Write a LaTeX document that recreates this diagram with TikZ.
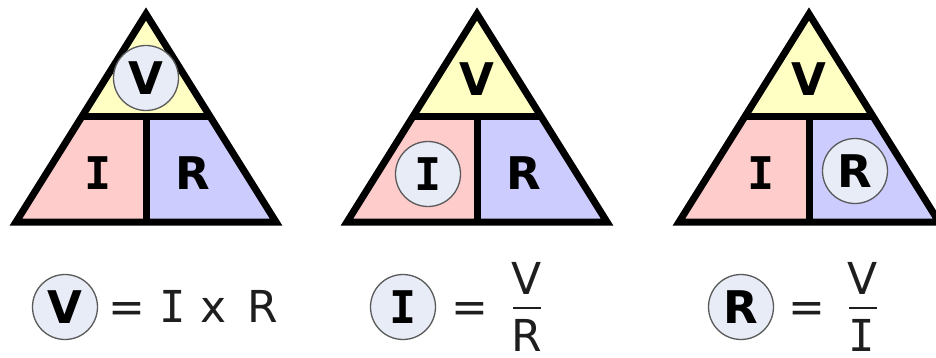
\documentclass[tikz,border=0pt]{standalone}
\usepackage{fontspec}
\newfontfamily\dvs{DejaVu Sans}
\newfontfamily\dvsm{DejaVu Sans Mono}
\definecolor{topY}{RGB}{255,255,196}
\definecolor{botP}{RGB}{255,204,204}
\definecolor{botB}{RGB}{204,204,255}
\definecolor{circF}{RGB}{232,236,246}
\definecolor{circD}{RGB}{90,90,90}
\definecolor{eqT}{RGB}{30,30,30}
\tikzset{
  lbl/.style={inner sep=0pt, font=\dvs\bfseries\fontsize{45}{54}\selectfont},
  lblI/.style={inner sep=0pt, font=\dvsm\bfseries\fontsize{45}{54}\selectfont},
  circ/.style={circle, draw=circD, line width=1.3pt, fill=circF, minimum size=65pt, inner sep=0pt},
  eq/.style={inner sep=0pt, text=eqT, font=\dvs\fontsize{44}{54}\selectfont},
  eqI/.style={inner sep=0pt, text=eqT, font=\dvsm\fontsize{44}{54}\selectfont},
  edge/.style={line width=7pt, line join=miter, line cap=rect},
  bar/.style={line width=2pt, draw=eqT}
}
\begin{document}
\begin{tikzpicture}[x=1pt,y=-1pt]
\useasboundingbox (0,0) rectangle (936,358);
\begin{scope}
\clip (0,0) rectangle (936,358);
\foreach \c in {146,477,809}{
  \fill[topY] (\c,14) -- (\c-64.4,117) -- (\c+64.4,117) -- cycle;
  \fill[botP] (\c-64.4,117) -- (\c,117) -- (\c,222) -- (\c-130,222) -- cycle;
  \fill[botB] (\c+64.4,117) -- (\c,117) -- (\c,222) -- (\c+130,222) -- cycle;
  \draw[edge] (\c,14) -- (\c-130,222) -- (\c+130,222) -- cycle;
  \draw[line width=7pt] (\c-64.4,117) -- (\c+64.4,117);
  \draw[line width=7pt] (\c,117) -- (\c,222);
}
\end{scope}
% triangle 1
\node[circ, lbl] (Va) at (146,78) {V};
\node[lblI] (Ia) at (98,173) {I};
\node[lbl] (Ra) at (193,173) {R};
% triangle 2
\node[lbl] (Vb) at (477,79) {V};
\node[circ, lblI] (Ib) at (428,174) {I};
\node[lbl] (Rb) at (524,173) {R};
% triangle 3
\node[lbl] (Vc) at (809,79) {V};
\node[lblI] (Ic) at (761,173) {I};
\node[circ, lbl] (Rc) at (855,171) {R};
% equation 1
\node[circ, lbl] (eV) at (65,307) {V};
\node[eq, anchor=base] (eq1) at (127,322) {=};
\node[eqI, anchor=base] (e1I) at (173,322) {I};
\node[eq, anchor=base] (e1x) at (214,322) {x};
\node[eq, anchor=base] (e1R) at (263,322) {R};
% equation 2
\node[circ, lblI] (eI) at (403,307) {I};
\node[eq, anchor=base] (eq2) at (470,322) {=};
\node[eq, anchor=base] (f2V) at (527,294) {V};
\node[eq, anchor=base] (f2R) at (527,351) {R};
\draw[bar] (513,308) -- (541,308);
% equation 3
\node[circ, lbl] (eR) at (741,307) {R};
\node[eq, anchor=base] (eq3) at (807,322) {=};
\node[eq, anchor=base] (f3V) at (863,294) {V};
\node[eqI, anchor=base] (f3I) at (862,351) {I};
\draw[bar] (849,308) -- (877,308);
\end{tikzpicture}
\end{document}
